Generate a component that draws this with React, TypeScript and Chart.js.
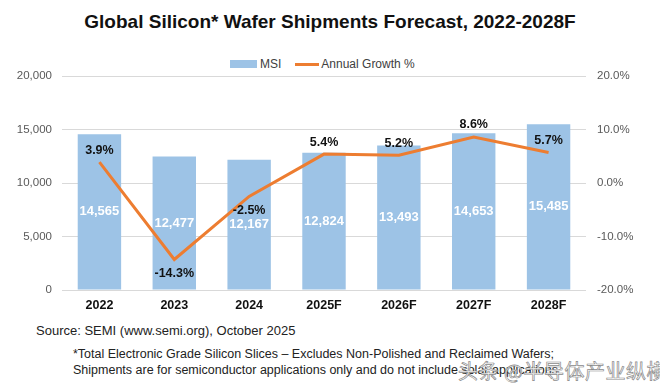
import React, { useEffect, useRef } from "react";
import { Chart, registerables } from "chart.js";

Chart.register(...registerables);

const categories = ["2022", "2023", "2024", "2025F", "2026F", "2027F", "2028F"];
const msiValues = [14565, 12477, 12167, 12824, 13493, 14653, 15485];
const growthValues = [3.9, -14.3, -2.5, 5.4, 5.2, 8.6, 5.7];
const growthLabelBelow = [false, true, true, false, false, false, false];

const FONT = "'Liberation Sans', Arial, sans-serif";

const labelPlugin = {
  id: "valueLabels",
  afterDatasetsDraw(chart: any) {
    const ctx = chart.ctx;
    ctx.save();
    const barMeta = chart.getDatasetMeta(0);
    ctx.font = `bold 13px ${FONT}`;
    ctx.fillStyle = "#ffffff";
    ctx.textAlign = "center";
    ctx.textBaseline = "middle";
    barMeta.data.forEach((bar: any, i: number) => {
      const mid = (bar.y + bar.base) / 2;
      ctx.fillText(msiValues[i].toLocaleString("en-US"), bar.x, mid);
    });
    const lineMeta = chart.getDatasetMeta(1);
    ctx.font = `bold 12.5px ${FONT}`;
    ctx.fillStyle = "#111111";
    lineMeta.data.forEach((pt: any, i: number) => {
      const y = growthLabelBelow[i] ? pt.y + 14 : pt.y - 12;
      ctx.fillText(growthValues[i].toFixed(1) + "%", pt.x, y);
    });
    ctx.restore();
  },
};

export default function App() {
  const ref = useRef<HTMLCanvasElement>(null);
  useEffect(() => {
    if (!ref.current) return;
    const chart = new Chart(ref.current, {
      type: "bar",
      data: {
        labels: categories,
        datasets: [
          {
            type: "bar",
            label: "MSI",
            data: msiValues,
            backgroundColor: "#9DC3E6",
            yAxisID: "y",
            categoryPercentage: 1,
            barPercentage: 0.58,
            order: 2,
          },
          {
            type: "line",
            label: "Annual Growth %",
            data: growthValues,
            borderColor: "#ED7D31",
            backgroundColor: "#ED7D31",
            borderWidth: 3,
            pointRadius: 0,
            tension: 0,
            yAxisID: "y1",
            order: 1,
          },
        ],
      },
      options: {
        animation: false,
        responsive: false,
        maintainAspectRatio: false,
        layout: { padding: { top: 76, bottom: 2, left: 0, right: 0 } },
        plugins: {
          legend: { display: false },
          title: { display: false },
          tooltip: { enabled: false },
        },
        scales: {
          x: {
            grid: { display: false },
            border: { display: false },
            ticks: { color: "#111", font: { family: FONT, size: 12.5, weight: "bold" }, padding: 0 },
          },
          y: {
            position: "left",
            min: 0,
            max: 20000,
            ticks: {
              stepSize: 5000,
              color: "#595959",
              padding: 10,
              font: { family: FONT, size: 11.5 },
              callback: (v: any) => Number(v).toLocaleString("en-US"),
            },
            grid: { color: "#d9d9d9", drawTicks: false },
            border: { display: false },
            afterFit: (s: any) => { s.width = 62; },
          },
          y1: {
            position: "right",
            min: -20,
            max: 20,
            ticks: {
              stepSize: 10,
              color: "#595959",
              padding: 11,
              font: { family: FONT, size: 11.5 },
              callback: (v: any) => Number(v).toFixed(1) + "%",
            },
            grid: { display: false, drawTicks: false },
            border: { display: false },
            afterFit: (s: any) => { s.width = 74; },
          },
        },
      },
      plugins: [labelPlugin],
    });
    return () => chart.destroy();
  }, []);

  return (
    <div style={{ position: "absolute", left: 0, top: 0, width: 660, height: 392, background: "#fff", fontFamily: FONT, overflow: "hidden" }}>
      <div style={{ position: "absolute", left: 0, width: 660, top: 11, textAlign: "center", fontWeight: "bold", fontSize: 19, color: "#111" }}>
        Global Silicon* Wafer Shipments Forecast, 2022-2028F
      </div>
      <div style={{ position: "absolute", top: 57, left: 230, display: "flex", alignItems: "center", fontSize: 12, color: "#404040" }}>
        <span style={{ display: "inline-block", width: 27, height: 8, background: "#9DC3E6", marginRight: 3 }} />
        <span>MSI</span>
        <span style={{ display: "inline-block", width: 24, height: 3, background: "#ED7D31", marginLeft: 14, marginRight: 2 }} />
        <span>Annual Growth %</span>
      </div>
      <canvas ref={ref} width={660} height={315} style={{ position: "absolute", left: 0, top: 0, width: 660, height: 315 }} />
      <div style={{ position: "absolute", left: 36, top: 323, fontSize: 13, color: "#222" }}>
        Source: SEMI (www.semi.org), October 2025
      </div>
      <div style={{ position: "absolute", left: 73, top: 346, fontSize: 12.5, color: "#222", lineHeight: "16px" }}>
        *Total Electronic Grade Silicon Slices – Excludes Non-Polished and Reclaimed Wafers;
        <br />
        Shipments are for semiconductor applications only and do not include solar applications
      </div>
      <div style={{ position: "absolute", left: 458, top: 356, fontSize: 20, color: "rgba(255,255,255,0.9)", WebkitTextStroke: "0.7px #8a8a8a", letterSpacing: 0.5, fontFamily: "'Noto Sans CJK SC', sans-serif", whiteSpace: "nowrap" }}>
        头条 @半导体产业纵横
      </div>
    </div>
  );
}
